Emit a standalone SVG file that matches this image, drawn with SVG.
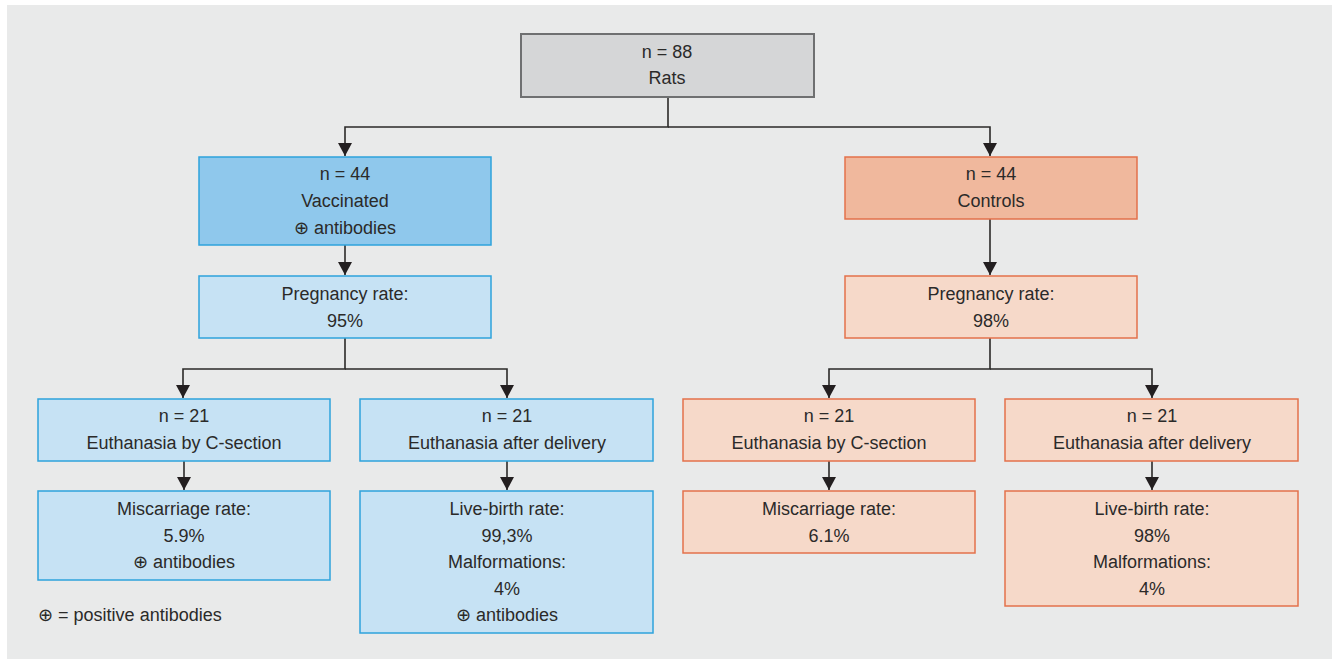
<svg xmlns="http://www.w3.org/2000/svg" width="1332" height="659" viewBox="0 0 1332 659">
<defs>
<style>
.t{font-family:"Liberation Sans","DejaVu Sans",sans-serif;font-size:18px;fill:#2b2a29;text-anchor:middle}
.g{fill:#d5d6d7;stroke:#6f7071;stroke-width:2}
.bd{fill:#8fc8ec;stroke:#2ea3dc;stroke-width:1.5}
.bl{fill:#c6e2f4;stroke:#2ea3dc;stroke-width:1.5}
.od{fill:#f0b89d;stroke:#e3714b;stroke-width:1.5}
.ol{fill:#f6d9c9;stroke:#e3714b;stroke-width:1.5}
.c{fill:none;stroke:#2b2a29;stroke-width:1.6}
</style>
<marker id="ah" markerWidth="14" markerHeight="14" refX="13" refY="7" orient="auto" markerUnits="userSpaceOnUse">
<path d="M0,0 L13,7 L0,14 z" fill="#231f20"/>
</marker>
</defs>
<rect x="0" y="0" width="1332" height="659" fill="#ffffff"/>
<rect x="7" y="5" width="1325" height="654" fill="#e9eaea"/>
<g id="connectors">
<path class="c" d="M668,97 V127 H345 V156" marker-end="url(#ah)"/>
<path class="c" d="M668,127 H990 V156" marker-end="url(#ah)"/>
<path class="c" d="M345,245 V275" marker-end="url(#ah)"/>
<path class="c" d="M990,219 V275" marker-end="url(#ah)"/>
<path class="c" d="M345,338 V369 H183 V398" marker-end="url(#ah)"/>
<path class="c" d="M345,369 H507 V398" marker-end="url(#ah)"/>
<path class="c" d="M990,338 V369 H829 V398" marker-end="url(#ah)"/>
<path class="c" d="M990,369 H1152 V398" marker-end="url(#ah)"/>
<path class="c" d="M184,461 V490" marker-end="url(#ah)"/>
<path class="c" d="M507,461 V490" marker-end="url(#ah)"/>
<path class="c" d="M829,461 V490" marker-end="url(#ah)"/>
<path class="c" d="M1152,461 V490" marker-end="url(#ah)"/>
</g>
<g id="root">
<rect class="g" x="521" y="34" width="293" height="63"/>
<text class="t" x="667" y="58">n = 88</text>
<text class="t" x="667" y="84">Rats</text>
</g>
<g id="vaccinated">
<rect class="bd" x="199" y="157" width="292" height="88"/>
<text class="t" x="345" y="180">n = 44</text>
<text class="t" x="345" y="207">Vaccinated</text>
<text class="t" x="345" y="234">⊕ antibodies</text>
</g>
<g id="controls">
<rect class="od" x="845" y="157" width="292" height="62"/>
<text class="t" x="991" y="180">n = 44</text>
<text class="t" x="991" y="207">Controls</text>
</g>
<g id="preg-left">
<rect class="bl" x="199" y="276" width="292" height="62"/>
<text class="t" x="345" y="300">Pregnancy rate:</text>
<text class="t" x="345" y="327">95%</text>
</g>
<g id="preg-right">
<rect class="ol" x="845" y="276" width="292" height="62"/>
<text class="t" x="991" y="300">Pregnancy rate:</text>
<text class="t" x="991" y="327">98%</text>
</g>
<g id="v-csection">
<rect class="bl" x="38" y="399" width="292" height="62"/>
<text class="t" x="184" y="422">n = 21</text>
<text class="t" x="184" y="449">Euthanasia by C-section</text>
</g>
<g id="v-delivery">
<rect class="bl" x="360" y="399" width="293" height="62"/>
<text class="t" x="507" y="422">n = 21</text>
<text class="t" x="507" y="449">Euthanasia after delivery</text>
</g>
<g id="c-csection">
<rect class="ol" x="683" y="399" width="292" height="62"/>
<text class="t" x="829" y="422">n = 21</text>
<text class="t" x="829" y="449">Euthanasia by C-section</text>
</g>
<g id="c-delivery">
<rect class="ol" x="1005" y="399" width="293" height="62"/>
<text class="t" x="1152" y="422">n = 21</text>
<text class="t" x="1152" y="449">Euthanasia after delivery</text>
</g>
<g id="v-miscarriage">
<rect class="bl" x="38" y="491" width="292" height="89"/>
<text class="t" x="184" y="515">Miscarriage rate:</text>
<text class="t" x="184" y="542">5.9%</text>
<text class="t" x="184" y="568">⊕ antibodies</text>
</g>
<g id="v-livebirth">
<rect class="bl" x="360" y="491" width="293" height="142"/>
<text class="t" x="507" y="515">Live-birth rate:</text>
<text class="t" x="507" y="542">99,3%</text>
<text class="t" x="507" y="568">Malformations:</text>
<text class="t" x="507" y="595">4%</text>
<text class="t" x="507" y="621">⊕ antibodies</text>
</g>
<g id="c-miscarriage">
<rect class="ol" x="683" y="491" width="292" height="62"/>
<text class="t" x="829" y="515">Miscarriage rate:</text>
<text class="t" x="829" y="542">6.1%</text>
</g>
<g id="c-livebirth">
<rect class="ol" x="1005" y="491" width="293" height="115"/>
<text class="t" x="1152" y="515">Live-birth rate:</text>
<text class="t" x="1152" y="542">98%</text>
<text class="t" x="1152" y="568">Malformations:</text>
<text class="t" x="1152" y="595">4%</text>
</g>
<g id="legend">
<text class="t" x="38" y="621" style="text-anchor:start">⊕ = positive antibodies</text>
</g>
</svg>
